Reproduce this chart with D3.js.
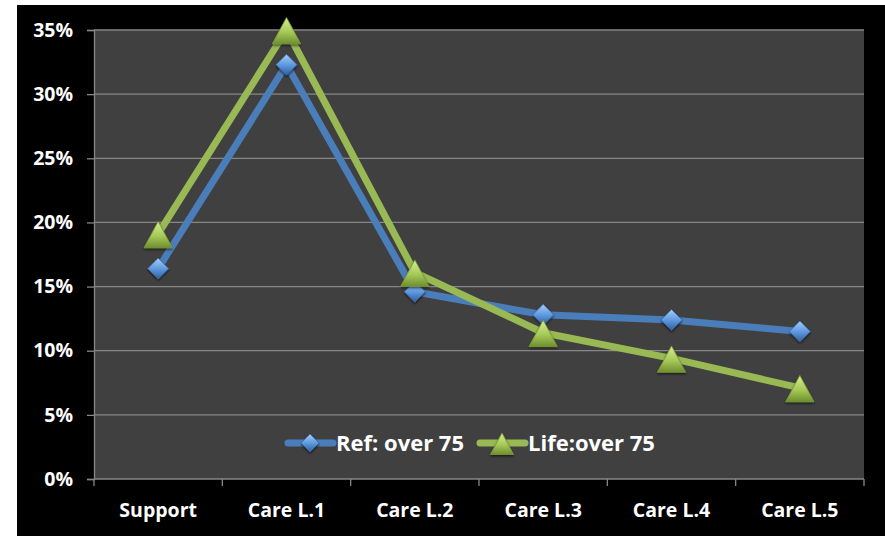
<!DOCTYPE html>
<html>
<head>
<meta charset="utf-8">
<script src="https://cdn.jsdelivr.net/npm/d3@7/dist/d3.min.js"></script>
<style>
  html, body { margin: 0; padding: 0; background: #ffffff; }
  svg { display: block; }
  text { font-family: "Open Sans", Lato, sans-serif; font-weight: 700; fill: #ffffff; }
</style>
</head>
<body>
<svg id="chart" width="885" height="536"></svg>
<script>
// Categories and series (share of each care level, in percent)
const categories = ["Support", "Care L.1", "Care L.2", "Care L.3", "Care L.4", "Care L.5"];
const refOver75 = [16.4, 32.3, 14.6, 12.8, 12.4, 11.5];
const lifeOver75 = [19.1, 35.0, 16.1, 11.4, 9.4, 7.1];
const yTicks = [0, 5, 10, 15, 20, 25, 30, 35];
const seriesNames = ["Ref: over 75", "Life:over 75"];

const svg = d3.select("#chart");
const W = 885, H = 536;
const FONT = 19.5;
const LEG_FONT = 22;

// outer black frame
svg.append("rect").attr("x", 17).attr("y", 5).attr("width", W - 17).attr("height", H - 5).attr("fill", "#000");

const plot = { left: 94, top: 30, right: 864, bottom: 479 };

const x = d3.scaleBand().domain(categories).range([plot.left, plot.right]).padding(0);
const y = d3.scaleLinear().domain([0, 35]).range([plot.bottom, plot.top]);

const defs = svg.append("defs");
const blueGrad = defs.append("linearGradient").attr("id", "gBlue").attr("x1", 0).attr("y1", 0).attr("x2", 0).attr("y2", 1);
blueGrad.append("stop").attr("offset", "0%").attr("stop-color", "#a9cdf5");
blueGrad.append("stop").attr("offset", "50%").attr("stop-color", "#5f9ae0");
blueGrad.append("stop").attr("offset", "100%").attr("stop-color", "#2f5f9e");
const greenGrad = defs.append("linearGradient").attr("id", "gGreen").attr("x1", 0).attr("y1", 0).attr("x2", 0).attr("y2", 1);
greenGrad.append("stop").attr("offset", "0%").attr("stop-color", "#d6ee8e");
greenGrad.append("stop").attr("offset", "55%").attr("stop-color", "#a6c958");
greenGrad.append("stop").attr("offset", "100%").attr("stop-color", "#6f8f2e");
const shadow = defs.append("filter").attr("id", "shadow").attr("x", "-50%").attr("y", "-50%").attr("width", "200%").attr("height", "200%");
shadow.append("feDropShadow").attr("dx", 0).attr("dy", 1.5).attr("stdDeviation", 1.2).attr("flood-color", "#000").attr("flood-opacity", 0.6);

// plot background
svg.append("rect").attr("x", plot.left).attr("y", plot.top)
  .attr("width", plot.right - plot.left).attr("height", plot.bottom - plot.top).attr("fill", "#404040");

// gridlines
svg.append("g").selectAll("line").data(yTicks.filter(d => d > 0)).join("line")
  .attr("x1", plot.left).attr("x2", plot.right)
  .attr("y1", d => y(d)).attr("y2", d => y(d))
  .attr("stroke", "#878787").attr("stroke-width", 1.3);

// y axis
const yAxis = svg.append("g").attr("transform", `translate(${plot.left},0)`)
  .call(d3.axisLeft(y).tickValues(yTicks).tickFormat(d => d + "%").tickSize(7).tickPadding(14));
yAxis.select(".domain").attr("stroke", "#878787").attr("stroke-width", 1.3);
yAxis.selectAll(".tick line").attr("stroke", "#878787").attr("stroke-width", 1.3);
yAxis.selectAll(".tick text").attr("font-size", FONT).attr("fill", "#fff")
  .style("font-family", "'Open Sans', sans-serif").style("font-weight", 700);

// x axis: ticks between categories
const xAxis = svg.append("g").attr("transform", `translate(0,${plot.bottom})`);
xAxis.append("line").attr("x1", plot.left).attr("x2", plot.right).attr("stroke", "#878787").attr("stroke-width", 1.3);
const boundaries = categories.map(c => x(c)).concat([plot.right]);
xAxis.selectAll(".tb").data(boundaries).join("line").attr("class", "tb")
  .attr("x1", d => d).attr("x2", d => d).attr("y1", 0).attr("y2", 7)
  .attr("stroke", "#878787").attr("stroke-width", 1.3);
xAxis.selectAll(".tl").data(categories).join("text").attr("class", "tl")
  .attr("x", d => x(d) + x.bandwidth() / 2).attr("y", 38)
  .attr("text-anchor", "middle").attr("font-size", FONT).text(d => d);

const cx = c => x(c) + x.bandwidth() / 2;
const line = d3.line().x(d => cx(d.c)).y(d => y(d.v));

const refData = categories.map((c, i) => ({ c, v: refOver75[i] }));
const lifeData = categories.map((c, i) => ({ c, v: lifeOver75[i] }));

function diamond(sel, s) {
  return sel.attr("d", `M0,${-s}L${s},0L0,${s}L${-s},0Z`);
}
function triangle(sel, s) {
  return sel.attr("d", `M0,${-s}L${s * 1.05},${s * 0.95}L${-s * 1.05},${s * 0.95}Z`);
}

// Ref series
svg.append("path").datum(refData).attr("d", line).attr("fill", "none")
  .attr("stroke", "#4a7ebb").attr("stroke-width", 7).attr("stroke-linejoin", "round");
// Life series
svg.append("path").datum(lifeData).attr("d", line).attr("fill", "none")
  .attr("stroke", "#98b954").attr("stroke-width", 7).attr("stroke-linejoin", "round");

svg.append("g").selectAll("path").data(refData).join("path")
  .attr("transform", d => `translate(${cx(d.c)},${y(d.v)})`)
  .call(diamond, 10.5).attr("fill", "url(#gBlue)").attr("stroke", "#3b6aa6").attr("stroke-width", 0.8)
  .attr("filter", "url(#shadow)");

svg.append("g").selectAll("path").data(lifeData).join("path")
  .attr("transform", d => `translate(${cx(d.c)},${y(d.v) + 1})`)
  .call(triangle, 13.5).attr("fill", "url(#gGreen)").attr("stroke", "#7a9a3a").attr("stroke-width", 0.8)
  .attr("filter", "url(#shadow)");

// legend
const leg = svg.append("g").attr("transform", "translate(0,443)");
const legItems = [
  { name: seriesNames[0], x0: 286, color: "#4a7ebb", kind: "d" },
  { name: seriesNames[1], x0: 478, color: "#98b954", kind: "t" }
];
legItems.forEach(it => {
  leg.append("line").attr("x1", it.x0 + 2).attr("x2", it.x0 + 47).attr("y1", 0).attr("y2", 0)
    .attr("stroke", it.color).attr("stroke-width", 7).attr("stroke-linecap", "round");
  const m = leg.append("path").attr("transform", `translate(${it.x0 + 24},${it.kind === "t" ? 1 : 0})`)
    .attr("filter", "url(#shadow)");
  if (it.kind === "d") m.call(diamond, 9).attr("fill", "url(#gBlue)").attr("stroke", "#3b6aa6").attr("stroke-width", 0.8);
  else m.call(triangle, 11).attr("fill", "url(#gGreen)").attr("stroke", "#7a9a3a").attr("stroke-width", 0.8);
  leg.append("text").attr("x", it.x0 + 50).attr("y", 8).attr("font-size", LEG_FONT).text(it.name);
});
</script>
</body>
</html>
